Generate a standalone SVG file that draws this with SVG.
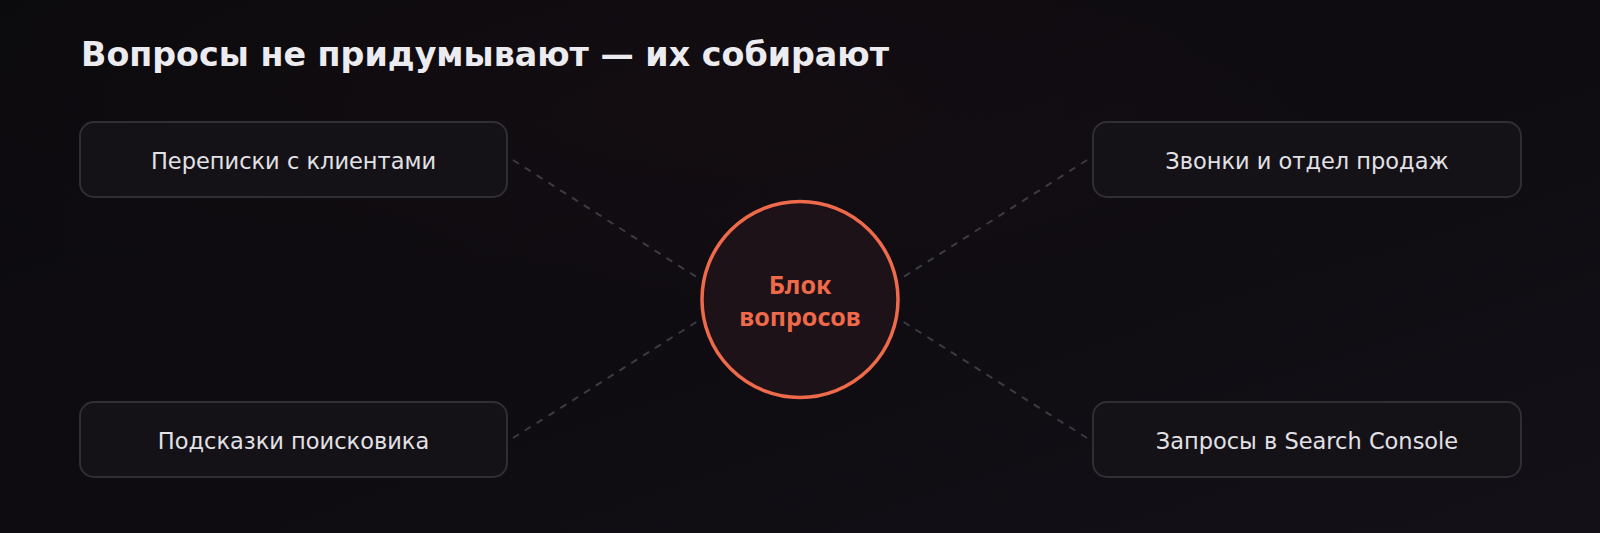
<svg xmlns="http://www.w3.org/2000/svg" width="1600" height="533" viewBox="0 0 1600 533">
<defs>
<linearGradient id="bg" x1="0" y1="0" x2="1" y2="1">
<stop offset="0" stop-color="#0b0a0d"/>
<stop offset="0.5" stop-color="#0e0c11"/>
<stop offset="1" stop-color="#131117"/>
</linearGradient>
<radialGradient id="glow" cx="0.45" cy="0.2" r="0.5">
<stop offset="0" stop-color="#1a0f14" stop-opacity="0.5"/>
<stop offset="1" stop-color="#1a0f14" stop-opacity="0"/>
</radialGradient>
<style>
.box{fill:#141217;stroke:#302e34;stroke-width:2}
.lbl{font-family:"DejaVu Sans",sans-serif;font-size:22.5px;fill:#e2e1e6;text-anchor:middle}
.conn{stroke:#3c3b41;stroke-width:2;stroke-dasharray:7 7;fill:none}
.ctr{font-family:"Noto Sans",sans-serif;font-weight:bold;font-size:25px;fill:#ee6a4a;text-anchor:middle}
</style>
</defs>
<rect width="1600" height="533" fill="url(#bg)"/>
<rect width="1600" height="533" fill="url(#glow)"/>
<text x="81" y="66" font-family="DejaVu Sans, sans-serif" font-weight="bold" font-size="33.3" fill="#ececf0">Вопросы не придумывают — их собирают</text>
<g id="connectors">
<line class="conn" x1="513" y1="160" x2="698" y2="278"/>
<line class="conn" x1="1087" y1="160" x2="902" y2="278"/>
<line class="conn" x1="513" y1="438" x2="698" y2="321"/>
<line class="conn" x1="1087" y1="438" x2="902" y2="321"/>
</g>
<g id="n1">
<rect class="box" x="80" y="122" width="427" height="75" rx="14"/>
<text class="lbl" x="293.5" y="169">Переписки с клиентами</text>
</g>
<g id="n2">
<rect class="box" x="1093" y="122" width="428" height="75" rx="14"/>
<text class="lbl" x="1307" y="169">Звонки и отдел продаж</text>
</g>
<g id="n3">
<rect class="box" x="80" y="402" width="427" height="75" rx="14"/>
<text class="lbl" x="293.5" y="449">Подсказки поисковика</text>
</g>
<g id="n4">
<rect class="box" x="1093" y="402" width="428" height="75" rx="14"/>
<text class="lbl" x="1307" y="449">Запросы в Search Console</text>
</g>
<g id="center">
<circle cx="800" cy="299.5" r="98" fill="#1c1218" stroke="#ee6a4a" stroke-width="3.5"/>
<text class="ctr" x="800" y="294">Блок</text>
<text class="ctr" x="800" y="326">вопросов</text>
</g>
</svg>
